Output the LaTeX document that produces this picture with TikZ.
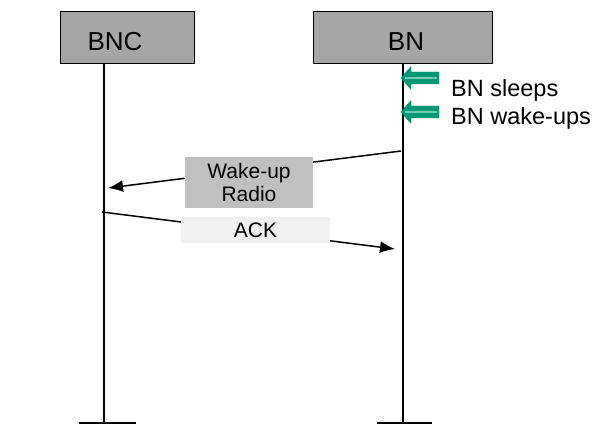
\documentclass[tikz,border=0pt]{standalone}
\usepackage{fontspec}
\setmainfont{Liberation Sans}
\usetikzlibrary{arrows.meta}

\definecolor{headgray}{RGB}{166,166,166}
\definecolor{msggray}{RGB}{192,192,192}
\definecolor{ackgray}{RGB}{240,240,240}
\definecolor{sleepgreen}{RGB}{0,153,115}
\definecolor{sleeplight}{RGB}{110,205,175}

\tikzset{
  head/.style={draw=black,line width=1pt,fill=headgray,inner sep=0pt},
  headtext/.style={font=\fontsize{26}{30}\selectfont,inner sep=0pt},
  msgbox/.style={inner sep=0pt,align=center,font=\fontsize{21}{23}\selectfont},
  lifeline/.style={line width=1.5pt},
  msg/.style={line width=1.5pt,-{Latex[length=15pt,width=12pt]}},
  note/.style={anchor=west,inner sep=0pt,font=\fontsize{23.5}{26}\selectfont},
}

\begin{document}
\begin{tikzpicture}[x=1pt,y=-1pt]
\useasboundingbox (0,0) rectangle (594,425);

% lifelines
\coordinate (bnctop) at (104,64);
\coordinate (bncend) at (104,423);
\coordinate (bntop)  at (403,64);
\coordinate (bnend)  at (403,423);

\draw[lifeline] (bnctop) -- (bncend);
\draw[lifeline] (bntop) -- (bnend);
\draw[lifeline] ([xshift=-25pt]bncend) -- ([xshift=32pt]bncend);
\draw[lifeline] ([xshift=-26pt]bnend) -- ([xshift=29pt]bnend);

% headers
\node[head,minimum width=134pt,minimum height=52pt] (bnc) at (127,38) {};
\node[headtext] (bnctext) at (115,42) {BNC};
\node[head,minimum width=179pt,minimum height=52pt] (bn) at (402.5,38) {};
\node[headtext] (bntext) at (406,42) {BN};

% sleep / wake-up marks
\foreach \yy/\name in {78/sleep,112/wake} {
  \filldraw[sleepgreen] (401,\yy) -- (411,\yy-11.5) -- (411,\yy-6) -- (439,\yy-6)
    -- (439,\yy+6) -- (411,\yy+6) -- (411,\yy+11.5) -- cycle;
  \draw[sleeplight,line width=2pt] (405,\yy) -- (437,\yy);
}
\node[note] (sleeps) at (451,90) {BN sleeps};
\node[note] (wakes) at (451,118) {BN wake-ups};

% messages
\coordinate (wakefrom) at (401,151);
\coordinate (waketo)   at (108,188);
\coordinate (ackfrom)  at (102,212);
\coordinate (ackto)    at (395,249);

\draw[msg] (wakefrom) -- (waketo);
\draw[msg] (ackfrom) -- (ackto);

\node[msgbox,fill=msggray,minimum width=128pt,minimum height=51pt] (wakeup) at (249,182.5) {Wake-up\\Radio};
\node[msgbox,fill=ackgray,minimum width=149pt,minimum height=26pt] (ack) at (255.5,230) {ACK};

\end{tikzpicture}
\end{document}
